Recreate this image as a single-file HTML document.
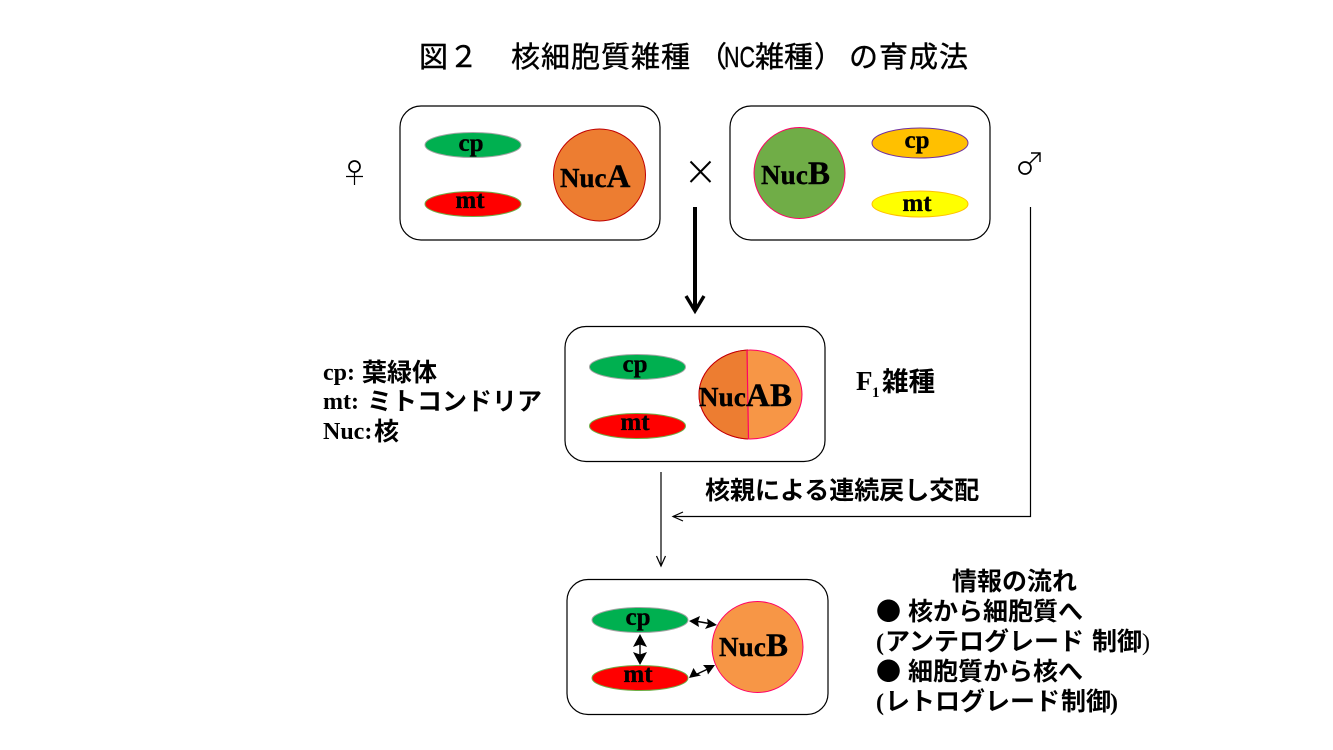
<!DOCTYPE html>
<html><head><meta charset="utf-8">
<style>
html,body{margin:0;padding:0;background:#fff}
svg{display:block}
text{font-family:"Liberation Serif","Noto Sans CJK JP",serif;font-weight:bold;fill:#000}
.g{font-family:"Noto Sans CJK JP",sans-serif;font-weight:normal;font-size:29px;stroke:#000;stroke-width:.4}
.c{font-family:"Noto Sans CJK JP",sans-serif;font-size:25px}
.l{font-size:24px}
.b{fill:#fff;stroke:#000;stroke-width:1.2}
.o{font-size:25px;text-anchor:middle;stroke:#000;stroke-width:.3}
.n{font-size:27px;stroke:#000;stroke-width:.4}
.n tspan{font-size:33px}
</style></head><body>
<svg width="1333" height="750" viewBox="0 0 1333 750" xmlns="http://www.w3.org/2000/svg">
<defs><clipPath id="lh"><rect x="600" y="340" width="148" height="110"/></clipPath></defs>

<text class="g" x="419" y="67" letter-spacing="1">図２</text>
<text class="g" x="511" y="67" letter-spacing="1">核細胞質雑種</text>
<text class="g" x="698" y="67">（</text>
<text class="g" x="724" y="67" style="font-family:'Liberation Sans',sans-serif;font-size:29px" textLength="31" lengthAdjust="spacingAndGlyphs">NC</text>
<text class="g" x="755" y="67">雑種</text>
<text class="g" x="814" y="67">）</text>
<text class="g" x="849" y="67" letter-spacing="1">の育成法</text>

<rect class="b" x="400" y="106" width="260" height="134" rx="21"/>
<rect class="b" x="730" y="106" width="260" height="134" rx="21"/>
<rect class="b" x="565" y="326.5" width="260" height="135" rx="21"/>
<rect class="b" x="567" y="579.5" width="261" height="135" rx="21"/>

<!-- box 1 -->
<ellipse cx="473" cy="145" rx="48" ry="12.5" fill="#00b050" stroke="#a5a5a5"/>
<ellipse cx="473" cy="204" rx="48" ry="12.5" fill="#f00" stroke="#70ad47"/>
<circle cx="599.5" cy="175" r="46" fill="#ed7d31" stroke="#c00000"/>
<text class="o" x="471" y="151">cp</text>
<text class="o" x="470" y="208">mt</text>
<text class="n" x="560" y="187">Nuc<tspan>A</tspan></text>

<!-- box 2 -->
<ellipse cx="920" cy="143" rx="48" ry="15" fill="#ffc000" stroke="#7030a0"/>
<ellipse cx="920" cy="204" rx="48" ry="13" fill="#ff0" stroke="#ffc000"/>
<circle cx="799.5" cy="173" r="45.5" fill="#70ad47" stroke="#ff0066"/>
<text class="o" x="917" y="148">cp</text>
<text class="o" x="917" y="211">mt</text>
<text class="n" x="761" y="184" textLength="69" lengthAdjust="spacing">Nuc<tspan>B</tspan></text>

<!-- box 3 -->
<ellipse cx="637.5" cy="367" rx="48" ry="12.5" fill="#00b050" stroke="#a5a5a5"/>
<ellipse cx="637.5" cy="426" rx="48" ry="12.5" fill="#f00" stroke="#70ad47"/>
<ellipse cx="750.5" cy="394.5" rx="51.5" ry="44.5" fill="#f79646" stroke="#ff0066"/>
<ellipse cx="750.5" cy="394.5" rx="51.5" ry="44.5" fill="#ed7d31" stroke="#c00000" clip-path="url(#lh)"/>
<line x1="747" y1="350" x2="748.5" y2="439" stroke="#ff0066" stroke-width="1.2"/>
<text class="o" x="635" y="372">cp</text>
<text class="o" x="635" y="430">mt</text>
<text class="n" x="699" y="406" textLength="93" lengthAdjust="spacing">Nuc<tspan>AB</tspan></text>

<!-- box 4 -->
<ellipse cx="640" cy="620" rx="48" ry="12.5" fill="#00b050" stroke="#a5a5a5"/>
<ellipse cx="640" cy="678" rx="48" ry="12.5" fill="#f00" stroke="#70ad47"/>
<circle cx="757.5" cy="647" r="45.5" fill="#f79646" stroke="#ff0066"/>
<text class="o" x="638" y="625">cp</text>
<text class="o" x="638" y="682">mt</text>
<text class="n" x="719" y="656" textLength="69" lengthAdjust="spacing">Nuc<tspan>B</tspan></text>

<!-- internal arrows -->
<g stroke="#000" stroke-width="1.4" fill="none">
<line x1="695" y1="621" x2="712" y2="624"/>
<line x1="640" y1="640" x2="640" y2="658"/>
<line x1="695" y1="675" x2="710" y2="668"/>
</g>
<g fill="#000">
<path d="M689 621 L700 616 L698 621.5 L699 627Z"/>
<path d="M717 625 L707 618.5 L708 624 L705 629Z"/>
<path d="M640 634 L633 647 L640 644.5 L647 647Z"/>
<path d="M640 665 L633 652 L640 654.5 L647 652Z"/>
<path d="M689 678 L693.5 668 L696.5 673 L701 675.5Z"/>
<path d="M715 665 L703 665 L706.5 669 L708 674.5Z"/>
</g>

<!-- flow arrows -->
<g fill="none" stroke="#000">
<line x1="695" y1="207" x2="695" y2="310" stroke-width="4"/>
<path d="M686 296 L695 311 L704 296" stroke-width="3.4"/>
<line x1="661" y1="472" x2="661" y2="566" stroke-width="1.2"/>
<path d="M656.5 556 L661 566 L665.5 556" stroke-width="1.2"/>
<path d="M1030.5 207 V516.5 H673" stroke-width="1.2"/>
<path d="M683 512 L673 516.5 L683 521" stroke-width="1.2"/>
</g>

<!-- cross -->
<path d="M690.5 161.5 L710.5 182 M710.5 161.5 L690.5 182" stroke="#000" stroke-width="2" fill="none"/>
<!-- female -->
<g stroke="#000" fill="none">
<circle cx="354.5" cy="166.5" r="5.5" stroke-width="1.7"/>
<path d="M354.5 172 V185 M346 176.5 H363" stroke-width="1.2"/>
</g>
<!-- male -->
<g stroke="#000" fill="none">
<circle cx="1025" cy="168" r="6" stroke-width="1.7"/>
<path d="M1029.5 163.5 L1039.5 153.5 M1031 153 H1040 V162" stroke-width="1.4"/>
</g>

<!-- legend -->
<text class="l" x="323" y="380">cp:</text><text class="c" x="362" y="381">葉緑体</text>
<text class="l" x="323" y="409">mt:</text><text class="c" x="367" y="410">ミトコンドリア</text>
<text class="l" x="323" y="439">Nuc:</text><text class="c" x="374" y="440">核</text>

<text x="856" y="390" font-size="27">F</text>
<text x="872" y="397" font-size="15">1</text>
<text class="c" x="882" y="391" style="font-size:26.5px">雑種</text>

<text class="c" x="705" y="499">核親による連続戻し交配</text>

<text class="c" x="952" y="590">情報の流れ</text>
<text class="c" x="876" y="620">●</text><text class="c" x="908" y="620">核から細胞質へ</text>
<text class="l" x="876" y="650">(</text><text class="c" x="885" y="650">アンテログレード</text><text class="c" x="1092" y="650">制御</text><text class="l" x="1142" y="650" style="font-weight:normal">)</text>
<text class="c" x="876" y="680">●</text><text class="c" x="908" y="680">細胞質から核へ</text>
<text class="l" x="876" y="710">(</text><text class="c" x="885" y="710">レトログレード</text><text class="c" x="1061" y="710">制御</text><text class="l" x="1110" y="710">)</text>
</svg>
</body></html>
